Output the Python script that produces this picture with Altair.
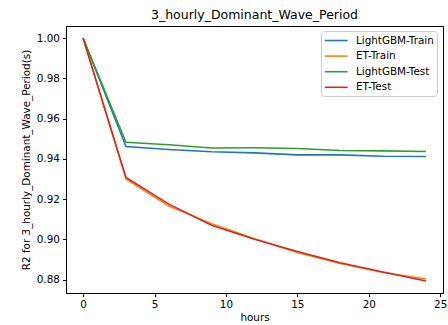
import altair as alt
import pandas as pd

hours = [0, 3, 6, 9, 12, 15, 18, 21, 24]
lgbm_train = [1.0, 0.9462, 0.9447, 0.9436, 0.9430, 0.9420, 0.9420, 0.9413, 0.9412]
et_train = [1.0, 0.9300, 0.9165, 0.9078, 0.9003, 0.8935, 0.8880, 0.8835, 0.8803]
lgbm_test = [1.0, 0.9483, 0.9470, 0.9454, 0.9455, 0.9452, 0.9442, 0.9440, 0.9437]
et_test = [1.0, 0.9308, 0.9175, 0.9070, 0.9000, 0.8940, 0.8883, 0.8838, 0.8793]

series_names = ["LightGBM-Train", "ET-Train", "LightGBM-Test", "ET-Test"]
series_values = [lgbm_train, et_train, lgbm_test, et_test]
colors = ["#1f77b4", "#ff7f0e", "#2ca02c", "#d62728"]

rows = []
for name, vals in zip(series_names, series_values):
    for h, v in zip(hours, vals):
        rows.append({"hours": h, "r2": v, "series": name})
df = pd.DataFrame(rows)

FONT = "DejaVu Sans"
FS = 10.4

x = alt.X("hours:Q", scale=alt.Scale(domain=[-1.2, 25.2], nice=False, zero=False),
          axis=alt.Axis(values=[0, 5, 10, 15, 20, 25], title="hours", grid=False,
                        tickSize=3.6, labelPadding=3, titlePadding=2, format="d"))
y = alt.Y("r2:Q", scale=alt.Scale(domain=[0.8733, 1.0061], nice=False, zero=False),
          axis=alt.Axis(values=[0.88, 0.90, 0.92, 0.94, 0.96, 0.98, 1.00],
                        title="R2 for 3_hourly_Dominant_Wave_Period(s)", grid=False,
                        format=".2f", tickSize=3.6, labelPadding=3, titlePadding=5))
color = alt.Color("series:N", scale=alt.Scale(domain=series_names, range=colors),
                  legend=alt.Legend(title=None, orient="none", legendX=255, legendY=5,
                                    symbolType="M-1,0H3", symbolSize=130, symbolStrokeWidth=1.56,
                                    labelFontSize=FS, labelFont=FONT, labelColor="#000000",
                                    padding=3, rowPadding=3.6, labelOffset=19,
                                    strokeColor="#cccccc", fillColor="white", cornerRadius=3))

layers = []
for name in series_names:
    layers.append(
        alt.Chart(df).transform_filter(alt.datum.series == name)
        .mark_line(strokeWidth=1.56, clip=True)
        .encode(x=x, y=y, color=color)
    )

chart = alt.layer(*layers).properties(
    width=377, height=267,
    title=alt.TitleParams("3_hourly_Dominant_Wave_Period", fontSize=12.5, font=FONT,
                          fontWeight="normal", color="#000000", offset=5),
    padding={"left": 66, "top": 26, "right": 5, "bottom": 32},
    autosize=alt.AutoSizeParams(type="none"),
).configure_view(stroke="#000000", strokeWidth=1).configure_axis(
    labelFont=FONT, titleFont=FONT, labelFontSize=FS, titleFontSize=FS,
    labelColor="#000000", titleColor="#000000", titleFontWeight="normal",
    domainColor="#000000", tickColor="#000000"
)

chart.save("out.html", embed_options={"renderer": "svg", "actions": False})
